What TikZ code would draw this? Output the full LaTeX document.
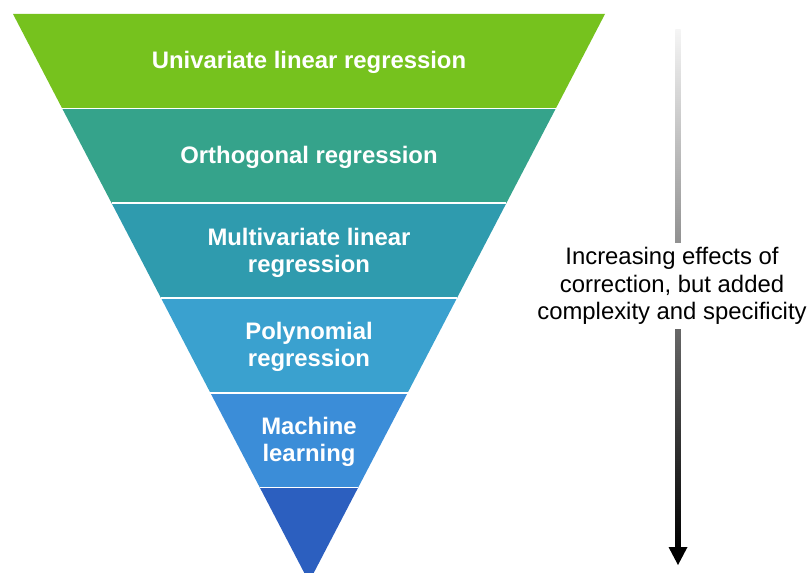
\documentclass[tikz,border=0pt]{standalone}
\usepackage{fontspec}
\setmainfont{Liberation Sans}
\usepackage{tikz}
\usetikzlibrary{calc}

\definecolor{bandA}{HTML}{76C21E}
\definecolor{bandB}{HTML}{35A38B}
\definecolor{bandC}{HTML}{2F9BAE}
\definecolor{bandD}{HTML}{3AA1CF}
\definecolor{bandE}{HTML}{3B8DD8}
\definecolor{bandF}{HTML}{2C5FBF}

\tikzset{
  band/.style={draw=white, line width=1.2pt},
  bandtext/.style={text=white, font=\fontsize{17.9}{20.4}\selectfont\bfseries, align=center, inner sep=0.75pt},
  sidetext/.style={text=black, font=\fontsize{17.9}{20.6}\selectfont, align=center, fill=white, inner sep=3pt}
}

\begin{document}
\begin{tikzpicture}[x=0.75pt,y=0.75pt,yscale=-1,xscale=1]
    \useasboundingbox (0,0) rectangle (809,573);
    \clip (0,0) rectangle (809,573);

    %Shape: Band 1
    \fill[bandA] (13,14) -- (605,14) -- (555.7,108.7) -- (62.3,108.7) -- cycle;
    %Shape: Band 2
    \fill[bandB] (62.3,108.7) -- (555.7,108.7) -- (506.3,203.3) -- (111.7,203.3) -- cycle;
    %Shape: Band 3
    \fill[bandC] (111.7,203.3) -- (506.3,203.3) -- (457,298) -- (161,298) -- cycle;
    %Shape: Band 4
    \fill[bandD] (161,298) -- (457,298) -- (407.7,392.7) -- (210.3,392.7) -- cycle;
    %Shape: Band 5
    \fill[bandE] (210.3,392.7) -- (407.7,392.7) -- (358.3,487.3) -- (259.7,487.3) -- cycle;
    %Shape: Band 6
    \fill[bandF] (259.7,487.3) -- (358.3,487.3) -- (309,582) -- cycle;

    % separators
    \draw[band] (62.3,108.7) -- (555.7,108.7);
    \draw[band] (111.7,203.3) -- (506.3,203.3);
    \draw[band] (161,298) -- (457,298);
    \draw[band] (210.3,392.7) -- (407.7,392.7);
    \draw[band] (259.7,487.3) -- (358.3,487.3);

    % Text Node
    \node[bandtext] (univar) at (309,62) {Univariate linear regression};
    % Text Node
    \node[bandtext] (ortho) at (309,157) {Orthogonal regression};
    % Text Node
    \node[bandtext] (multivar) at (309,252.5) {Multivariate linear\\regression};
    % Text Node
    \node[bandtext] (poly) at (309,347) {Polynomial\\regression};
    % Text Node
    \node[bandtext] (ml) at (309,441.5) {Machine\\learning};

    % Arrow
    \coordinate (arrtop) at (678,30);
    \coordinate (arrbot) at (678,548);
    \shade[top color=gray!8, bottom color=black] ($(arrtop)+(-2.7,0)$) rectangle ($(arrbot)+(2.7,0)$);
    \fill[black] (668.5,547) -- (687.5,547) -- (678,565) -- cycle;

    % Text Node
    \node[sidetext] (effects) at (672,286) {Increasing effects of\\correction, but added\\complexity and specificity};

\end{tikzpicture}
\end{document}
